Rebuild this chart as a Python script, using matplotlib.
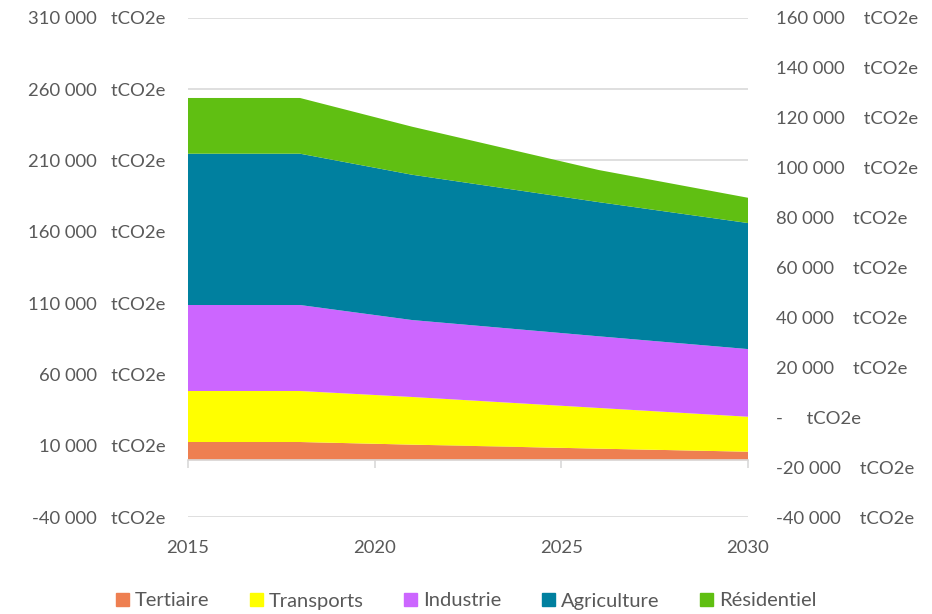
import numpy as np
import matplotlib
matplotlib.use("Agg")
import matplotlib.pyplot as plt
import matplotlib.patches as mpatches
import matplotlib.transforms as mtransforms

plt.rcParams['font.family'] = ['Lato', 'DejaVu Sans']

# ---------- DATA ----------
years = [2015, 2018, 2021, 2026, 2030]
sectors = ["Tertiaire", "Transports", "Industrie", "Agriculture", "Résidentiel"]
tertiaire = [12750, 12750, 10900, 8100, 5950]
transports = [35730, 35730, 33400, 28500, 24500]
industrie = [60250, 60250, 53900, 50200, 47400]
agriculture = [106000, 106000, 101800, 94000, 88300]
residentiel = [39030, 39030, 33650, 22500, 17700]
colors = ["#EE7F51", "#FFFF00", "#CC66FF", "#00809F", "#60BF12"]

left_ticks = list(range(-40000, 310001, 50000))
right_ticks = list(range(-40000, 160001, 20000))
x_ticks = [2015, 2020, 2025, 2030]

TXT = "#595959"
GRID = "#D9D9D9"
FS = 13.3


def fmt(v):
    if v == 0:
        return "-"
    s = f"{abs(v):,}".replace(",", " ")
    return ("-" if v < 0 else "") + s


fig = plt.figure(figsize=(9.32, 6.14), dpi=100)
ax = fig.add_axes([188 / 932, 1 - 517.3 / 614, 560 / 932, 499.6 / 614])

ax.stackplot(years, tertiaire, transports, industrie, agriculture, residentiel,
             colors=colors, labels=sectors, linewidth=0, zorder=2)

ax.set_xlim(2015, 2030)
ax.set_ylim(-40000, 310000)
ax.set_yticks(left_ticks)
ax.set_yticklabels([f"{fmt(v)}   tCO2e" for v in left_ticks])
for v in left_ticks:
    ax.axhline(v, color=GRID, linewidth=1.2, zorder=1)

for s in ["top", "right", "left"]:
    ax.spines[s].set_visible(False)
ax.spines["bottom"].set_position(("data", 0))
ax.spines["bottom"].set_color(GRID)
ax.spines["bottom"].set_linewidth(1.2)
ax.spines["bottom"].set_zorder(3)

ax.set_xticks(x_ticks)
ax.set_xticklabels([])
ax.tick_params(axis="x", direction="out", length=6, width=1.2, color=GRID)
ax.tick_params(axis="y", length=0, pad=16, labelsize=FS, labelcolor=TXT)

# x labels sit at the bottom of the plot area, not on the zero line
trans = mtransforms.blended_transform_factory(ax.transData, ax.transAxes)
for x in x_ticks:
    ax.text(x, -0.062, str(x), transform=trans, ha="center", va="center",
            fontsize=FS, color=TXT)

# secondary axis on the right
ax2 = ax.twinx()
ax2.set_ylim(-40000, 160000)
ax2.set_yticks(right_ticks)
ax2.set_yticklabels([f"{fmt(v)}     tCO2e" if v == 0 else f"{fmt(v)}    tCO2e"
                     for v in right_ticks])
ax2.tick_params(axis="y", length=0, pad=20, labelsize=FS, labelcolor=TXT)
for s in ax2.spines.values():
    s.set_visible(False)

handles = [mpatches.Patch(color=c, label=l) for c, l in zip(colors, sectors)]
fig.legend(handles=handles, loc="center", bbox_to_anchor=(0.5, 1 - 601 / 614),
           ncol=5, frameon=False, fontsize=14.5, labelcolor=TXT,
           handlelength=0.65, handleheight=0.65, handletextpad=0.3,
           columnspacing=2.0)

fig.savefig("out.png", dpi=100)
